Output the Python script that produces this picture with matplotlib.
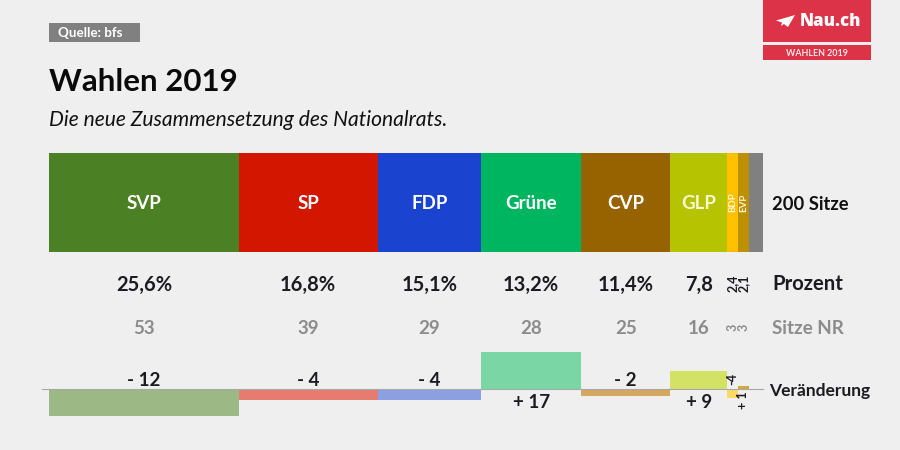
import matplotlib
matplotlib.use('Agg')
import matplotlib.pyplot as plt
from matplotlib.patches import Rectangle, Polygon
from matplotlib.transforms import blended_transform_factory

# Daten
parteien = ['SVP', 'SP', 'FDP', 'Grüne', 'CVP', 'GLP', 'BDP', 'EVP', 'Andere']
sitze = [53, 39, 29, 28, 25, 16, 3, 3, 4]
prozent = ['25,6%', '16,8%', '15,1%', '13,2%', '11,4%', '7,8', '2,4', '2,1']
veraenderung = ['- 12', '- 4', '- 4', '+ 17', '- 2', '+ 9', '- 4', '+ 1']
# Balkenhöhen aus dem Bild gelesen, sie passen nicht ganz zu den Labels
balken_veraenderung = [-12.2, -5, -4.9, 17, -3.1, 8, -4.2, 1.4]
farben = ['#4c8024', '#d21600', '#1a44d0', '#00b560', '#976200', '#b5c300',
          '#ffc000', '#bc9000', '#808080']
farben_hell = ['#9cb885', '#e67c70', '#8c9fe0', '#7ad7a5', '#d4a860', '#d3e264',
               '#fbd968', '#d2a840']

bg = '#efeff0'
dunkel = '#1c1c20'
grau = '#8c8c8c'
rot = '#dc3348'
plt.rcParams['font.family'] = ['Lato', 'Open Sans', 'DejaVu Sans']

fig = plt.figure(figsize=(9, 4.5), dpi=100, facecolor=bg)

# Ebene in Pixeln für Texte und Logo, liegt über den Balken
px = fig.add_axes([0, 0, 1, 1], zorder=10)
px.set_xlim(0, 900)
px.set_ylim(450, 0)
px.axis('off')


def achse(links, oben, rechts, unten):
    a = fig.add_axes([links / 900, 1 - unten / 450, (rechts - links) / 900, (unten - oben) / 450])
    a.axis('off')
    a.set_xlim(0, sum(sitze))
    return a


# gestapelter Balken oben
ax_bar = achse(49.4, 153, 763, 251.5)
ax_bar.set_ylim(0, 1)
start = []
links = 0
for s, f in zip(sitze, farben):
    ax_bar.barh(0.5, s, left=links, height=1, color=f, linewidth=0)
    start.append(links)
    links += s
mitte = [st + s / 2 for st, s in zip(start, sitze)]

# Veränderung, Nulllinie bei y=389
skala = 2.2
ax_ver = achse(49.4, 340, 763, 430)
ax_ver.set_ylim(-(430 - 389) / skala, (389 - 340) / skala)
for i in range(8):
    ax_ver.bar(mitte[i], balken_veraenderung[i], width=sitze[i], color=farben_hell[i],
               linewidth=0)

px.plot([42, 763], [389, 389], color='#a8a8a8', lw=0.8, zorder=5)

spalte = blended_transform_factory(ax_bar.transData, px.transData)

# Zeilen
for i in range(6):
    px.text(mitte[i], 203.5, parteien[i], transform=spalte, color='white' if i < 5 else '#f8f8d0',
            fontsize=13.5, fontweight='bold', ha='center', va='center', zorder=6)
    px.text(mitte[i], 284.5, prozent[i], transform=spalte, color=dunkel, fontsize=14.5,
            fontweight='bold', ha='center', va='center')
    px.text(mitte[i], 328.5, str(sitze[i]), transform=spalte, color=grau, fontsize=13.5,
            fontweight='bold', ha='center', va='center')
    y = 380.5 if balken_veraenderung[i] < 0 else 402.5
    px.text(mitte[i], y, veraenderung[i], transform=spalte, color=dunkel, fontsize=13.5,
            fontweight='bold', ha='center', va='center')

for i in (6, 7):
    px.text(mitte[i], 202.5, parteien[i], transform=spalte, color='#fff6d8', fontsize=7,
            fontweight='bold', ha='center', va='center', rotation=90, zorder=6)
    px.text(mitte[i], 283, prozent[i], transform=spalte, color=dunkel, fontsize=9,
            fontweight='bold', ha='center', va='center', rotation=90)
    px.text(mitte[i], 327, str(sitze[i]), transform=spalte, color=grau, fontsize=9,
            fontweight='bold', ha='center', va='center', rotation=90)
px.text(mitte[6], 379, veraenderung[6].replace(' ', ''), transform=spalte, color=dunkel,
        fontsize=9, fontweight='bold', ha='center', va='center', rotation=90)
px.text(mitte[7], 400, veraenderung[7], transform=spalte, color=dunkel, fontsize=9,
        fontweight='bold', ha='center', va='center', rotation=90)

# Beschriftung rechts
px.text(772, 204.5, '200 Sitze', color='#111111', fontsize=13.2, fontweight='bold', va='center')
px.text(772, 284.5, 'Prozent', color=dunkel, fontsize=14.6, fontweight='bold', va='center')
px.text(772, 328.5, 'Sitze NR', color=grau, fontsize=13.5, fontweight='bold', va='center')
px.text(769, 391, 'Veränderung', color=dunkel, fontsize=12.5, fontweight='bold', va='center')

# Kopf
px.add_patch(Rectangle((49, 23), 91, 19, color='#808080', lw=0))
px.text(58, 33, 'Quelle: bfs', color='white', fontsize=9.6, fontweight='bold', va='center')
px.text(49, 82, 'Wahlen 2019', color='#0a0a0a', fontsize=22.5, fontweight='bold', va='center')
px.text(49, 119.5, 'Die neue Zusammensetzung des Nationalrats.', color='#111111', fontsize=15.1,
        fontstyle='italic', va='center')

# Logo
px.add_patch(Rectangle((763, 0), 108, 42, color=rot, lw=0))
px.add_patch(Rectangle((763, 45), 108, 15, color=rot, lw=0))
px.add_patch(Polygon([(776, 20.5), (795, 15), (788, 27), (784, 24), (781, 26), (782, 22.5)],
                     color='white', lw=0))
px.text(800, 22, 'Nau.ch', color='white', fontsize=12.2, fontweight='black',
        family=['Open Sans', 'DejaVu Sans'], va='center')
px.text(816.5, 53, 'WAHLEN 2019', color='#f9e8e8', fontsize=6.4, fontweight='bold',
        ha='center', va='center')

fig.savefig('out.png', dpi=100, facecolor=bg)
